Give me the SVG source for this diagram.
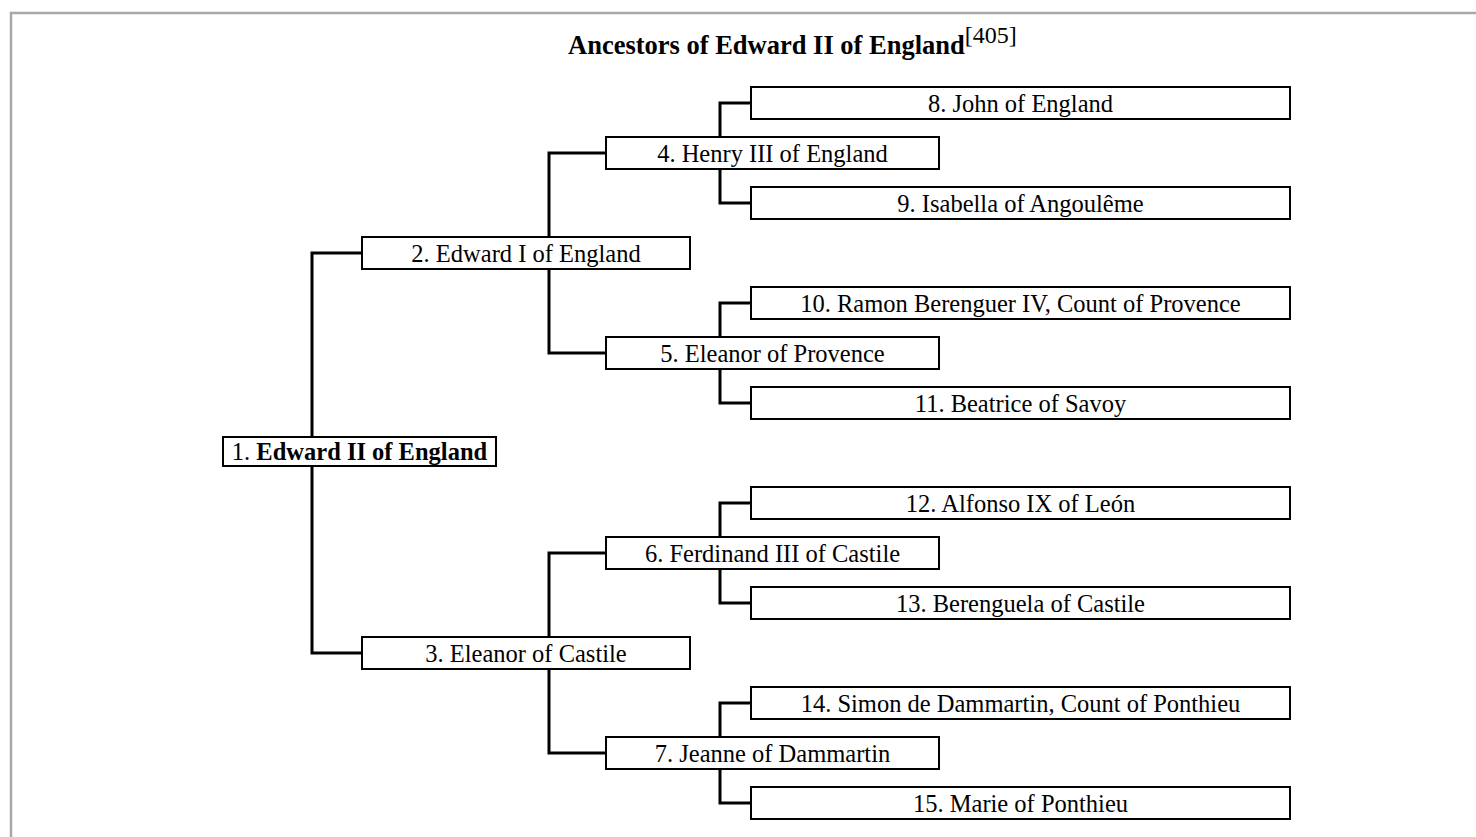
<svg xmlns="http://www.w3.org/2000/svg" width="1476" height="837" viewBox="0 0 1476 837">
<style>
.frame{stroke:#a8a8a8;stroke-width:2.5;fill:none}
.box{fill:#fff;stroke:#000;stroke-width:2}
.con{stroke:#000;stroke-width:3;fill:none}
.t{font-family:"Liberation Serif","Times New Roman",serif;font-size:24.5px;fill:#000;text-anchor:middle}
.title{font-family:"Liberation Serif","Times New Roman",serif;font-size:26.5px;font-weight:bold;fill:#000}
</style>
<rect width="1476" height="837" fill="#fff"/>
<path class="frame" d="M11,837 V13 H1476"/>
<text class="title" x="568" y="54">Ancestors of Edward II of England<tspan font-weight="normal" font-size="24" dy="-11">[405]</tspan></text>
<g id="connectors">
<path class="con" d="M362,253 H312 V653 H362"/>
<path class="con" d="M606,153 H549 V353 H606"/>
<path class="con" d="M606,553 H549 V753 H606"/>
<path class="con" d="M751,103 H720 V203 H751"/>
<path class="con" d="M751,303 H720 V403 H751"/>
<path class="con" d="M751,503 H720 V603 H751"/>
<path class="con" d="M751,703 H720 V803 H751"/>
</g>
<g id="n1"><rect class="box" x="223" y="437" width="273" height="29"/><text class="t" x="359.5" y="459.5">1. <tspan font-weight="bold">Edward II of England</tspan></text></g>
<g id="n2"><rect class="box" x="362" y="237" width="328" height="32"/><text class="t" x="526" y="262">2. Edward I of England</text></g>
<g id="n3"><rect class="box" x="362" y="637" width="328" height="32"/><text class="t" x="526" y="662">3. Eleanor of Castile</text></g>
<g id="n4"><rect class="box" x="606" y="137" width="333" height="32"/><text class="t" x="772.5" y="162">4. Henry III of England</text></g>
<g id="n5"><rect class="box" x="606" y="337" width="333" height="32"/><text class="t" x="772.5" y="362">5. Eleanor of Provence</text></g>
<g id="n6"><rect class="box" x="606" y="537" width="333" height="32"/><text class="t" x="772.5" y="562">6. Ferdinand III of Castile</text></g>
<g id="n7"><rect class="box" x="606" y="737" width="333" height="32"/><text class="t" x="772.5" y="762">7. Jeanne of Dammartin</text></g>
<g id="n8"><rect class="box" x="751" y="87" width="539" height="32"/><text class="t" x="1020.5" y="112">8. John of England</text></g>
<g id="n9"><rect class="box" x="751" y="187" width="539" height="32"/><text class="t" x="1020.5" y="212">9. Isabella of Angoulême</text></g>
<g id="n10"><rect class="box" x="751" y="287" width="539" height="32"/><text class="t" x="1020.5" y="312">10. Ramon Berenguer IV, Count of Provence</text></g>
<g id="n11"><rect class="box" x="751" y="387" width="539" height="32"/><text class="t" x="1020.5" y="412">11. Beatrice of Savoy</text></g>
<g id="n12"><rect class="box" x="751" y="487" width="539" height="32"/><text class="t" x="1020.5" y="512">12. Alfonso IX of León</text></g>
<g id="n13"><rect class="box" x="751" y="587" width="539" height="32"/><text class="t" x="1020.5" y="612">13. Berenguela of Castile</text></g>
<g id="n14"><rect class="box" x="751" y="687" width="539" height="32"/><text class="t" x="1020.5" y="712">14. Simon de Dammartin, Count of Ponthieu</text></g>
<g id="n15"><rect class="box" x="751" y="787" width="539" height="32"/><text class="t" x="1020.5" y="812">15. Marie of Ponthieu</text></g>
</svg>
